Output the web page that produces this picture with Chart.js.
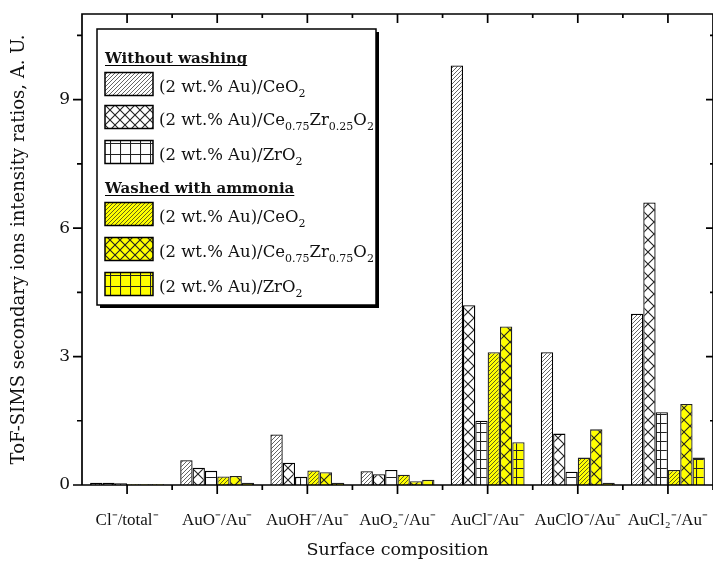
<!DOCTYPE html>
<html>
<head>
<meta charset="utf-8">
<script src="https://cdn.jsdelivr.net/npm/chart.js@4.4.0/dist/chart.umd.min.js"></script>
<style>
  html, body { margin: 0; padding: 0; background: #fff; }
  #wrap { width: 713px; height: 565px; }
</style>
</head>
<body>
<div id="wrap"><canvas id="myChart" width="713" height="565"></canvas></div>
<script>
// categories on the x axis
const categories = ["Cl\u207B/total\u207B", "AuO\u207B/Au\u207B", "AuOH\u207B/Au\u207B", "AuO\u2082\u207B/Au\u207B",
  "AuCl\u207B/Au\u207B", "AuClO\u207B/Au\u207B", "AuCl\u2082\u207B/Au\u207B"];

// without washing
const ceo2 = [0.05, 0.58, 1.18, 0.32, 9.8, 3.1, 4.0];
const cezr = [0.05, 0.40, 0.52, 0.25, 4.2, 1.2, 6.6];
const zro2 = [0.04, 0.33, 0.19, 0.35, 1.5, 0.31, 1.7];
// washed with ammonia
const ceo2Washed = [0.02, 0.20, 0.34, 0.24, 3.1, 0.64, 0.35];
const cezrWashed = [0.02, 0.21, 0.30, 0.09, 3.7, 1.3, 1.89];
const zro2Washed = [0.02, 0.05, 0.05, 0.12, 1.0, 0.05, 0.64];

const groupTitles = ["Without washing", "Washed with ammonia"];
const seriesLabels = [
  "(2 wt.% Au)/CeO_{2}",
  "(2 wt.% Au)/Ce_{0.75}Zr_{0.25}O_{2}",
  "(2 wt.% Au)/ZrO_{2}",
  "(2 wt.% Au)/CeO_{2}",
  "(2 wt.% Au)/Ce_{0.75}Zr_{0.75}O_{2}",
  "(2 wt.% Au)/ZrO_{2}",
];
const yTicks = [0, 3, 6, 9];

const seriesValues = [ceo2, cezr, zro2, ceo2Washed, cezrWashed, zro2Washed];
const kinds = ["diag", "cross", "grid", "diag", "cross", "grid"];

const ctx = document.getElementById("myChart").getContext("2d");

function makePattern(kind, bg, w, h) {
  const c = document.createElement("canvas");
  c.width = w;
  c.height = h;
  const g = c.getContext("2d");
  g.fillStyle = bg;
  g.fillRect(0, 0, w, h);
  g.strokeStyle = "#222";
  g.lineWidth = kind === "diag" ? 0.7 : 1.1;
  g.beginPath();
  if (kind === "diag") {
    g.moveTo(-1, h + 1); g.lineTo(w + 1, -1);
    g.moveTo(-1, 1); g.lineTo(1, -1);
    g.moveTo(w - 1, h + 1); g.lineTo(w + 1, h - 1);
  } else if (kind === "cross") {
    g.moveTo(0, 0); g.lineTo(w, h);
    g.moveTo(0, h); g.lineTo(w, 0);
  } else {
    g.moveTo(0, 0.5); g.lineTo(w, 0.5);
    g.moveTo(0.5, 0); g.lineTo(0.5, h);
  }
  g.stroke();
  return ctx.createPattern(c, "repeat");
}

function tileFor(kind, legend) {
  if (kind === "diag") return [4, 4];
  if (kind === "cross") return legend ? [10, 10] : [12, 12];
  return legend ? [10, 11] : [12, 9];
}

const fills = kinds.map((k, i) => {
  const [w, h] = tileFor(k, false);
  return makePattern(k, i < 3 ? "#ffffff" : "#ffff00", w, h);
});
const legendFills = kinds.map((k, i) => {
  const [w, h] = tileFor(k, true);
  return makePattern(k, i < 3 ? "#ffffff" : "#ffff00", w, h);
});

const serif = "'DejaVu Serif', serif";

function drawRich(c, text, x, y, size) {
  const parts = text.split(/(_\{[^}]*\})/);
  for (const p of parts) {
    if (!p) continue;
    if (p.startsWith("_{")) {
      const t = p.slice(2, -1);
      c.font = Math.round(size * 0.65) + "px " + serif;
      c.fillText(t, x, y + 5);
      x += c.measureText(t).width;
    } else {
      c.font = size + "px " + serif;
      c.fillText(p, x, y);
      x += c.measureText(p).width;
    }
  }
  return x;
}

function noPadding(scale) {
  scale.paddingLeft = 0;
  scale.paddingRight = 0;
  scale.paddingTop = 0;
  scale.paddingBottom = 0;
}

// frame with ticks on all four sides
const frame = {
  id: "frame",
  afterDatasetsDraw(chart) {
    const c = chart.ctx;
    const a = chart.chartArea;
    const x = chart.scales.x;
    const y = chart.scales.y;
    c.save();
    c.strokeStyle = "#000";
    c.lineWidth = 1.7;
    c.beginPath();
    c.moveTo(a.left, a.bottom);
    c.lineTo(a.left, a.top);
    c.lineTo(a.right, a.top);
    c.lineTo(a.right, a.bottom);
    c.lineTo(a.left, a.bottom);
    const half = (x.getPixelForValue(1) - x.getPixelForValue(0)) / 2;
    for (let i = 0; i < categories.length; i++) {
      const px = x.getPixelForValue(i);
      c.moveTo(px, a.bottom); c.lineTo(px, a.bottom + 9);
      c.moveTo(px, a.top); c.lineTo(px, a.top + 9);
      const bx = px + half;
      c.moveTo(bx, a.bottom); c.lineTo(bx, a.bottom + 5);
      c.moveTo(bx, a.top); c.lineTo(bx, a.top + 4);
    }
    for (let v = 0; v <= y.max; v += 1.5) {
      const py = y.getPixelForValue(v);
      const major = v % 3 === 0;
      c.moveTo(a.left, py); c.lineTo(a.left - (major ? 9 : 5), py);
      c.moveTo(a.right, py); c.lineTo(a.right - (major ? 7 : 3), py);
    }
    c.stroke();
    c.restore();
  },
};

// legend box with hatched swatches
const legendBox = {
  id: "legendBox",
  afterDraw(chart) {
    const c = chart.ctx;
    const a = chart.chartArea;
    const bx = a.left + 15, by = a.top + 15, bw = 279, bh = 276;
    c.save();
    c.fillStyle = "#000";
    c.fillRect(bx + 3, by + 3, bw, bh);
    c.fillStyle = "#fff";
    c.fillRect(bx, by, bw, bh);
    c.strokeStyle = "#000";
    c.lineWidth = 1.5;
    c.strokeRect(bx, by, bw, bh);

    const headerY = [28, 158];
    const itemY = [55, 88, 123, 185, 220, 255];
    c.textBaseline = "alphabetic";
    c.fillStyle = "#111";
    groupTitles.forEach((t, i) => {
      c.font = "bold 15px " + serif;
      const tx = bx + 8, ty = by + headerY[i] + 6;
      c.fillText(t, tx, ty);
      const w = c.measureText(t).width;
      c.lineWidth = 1.2;
      c.beginPath();
      c.moveTo(tx, ty + 2.5); c.lineTo(tx + w, ty + 2.5);
      c.stroke();
    });
    seriesLabels.forEach((t, i) => {
      const cy = by + itemY[i];
      c.fillStyle = legendFills[i];
      c.fillRect(bx + 8, cy - 11.5, 48, 23);
      c.lineWidth = 1.5;
      c.strokeStyle = "#000";
      c.strokeRect(bx + 8, cy - 11.5, 48, 23);
      c.fillStyle = "#111";
      drawRich(c, t, bx + 62, cy + 8, 16.5);
    });
    c.restore();
  },
};

const data = {
  labels: categories,
  datasets: seriesValues.map((vals, i) => ({
    label: seriesLabels[i],
    data: vals,
    backgroundColor: fills[i],
    borderColor: i < 3 ? "#000" : "#222",
    borderWidth: 1.3,
    categoryPercentage: 0.82,
    barPercentage: 1.0,
  })),
};

const config = {
  type: "bar",
  data: data,
  options: {
    responsive: false,
    devicePixelRatio: 1,
    animation: false,
    layout: { padding: { top: 14, right: 0, left: 0, bottom: 0 } },
    plugins: {
      legend: { display: false },
      tooltip: { enabled: false },
    },
    scales: {
      x: {
        grid: { display: false, drawTicks: false },
        border: { display: false },
        ticks: {
          color: "#111",
          padding: 25,
          maxRotation: 0,
          autoSkip: false,
          font: { family: "'Liberation Serif', serif", size: 17 },
        },
        title: {
          display: true,
          text: "Surface composition",
          color: "#111",
          padding: { top: 0, bottom: 4 },
          font: { family: serif, size: 17.5 },
        },
        afterFit(scale) { scale.height = 80; noPadding(scale); },
      },
      y: {
        min: 0,
        max: 11,
        grid: { display: false, drawTicks: false },
        border: { display: false },
        afterBuildTicks(scale) { scale.ticks = yTicks.map((v) => ({ value: v })); },
        ticks: {
          color: "#111",
          padding: 12,
          font: { family: serif, size: 17 },
        },
        title: {
          display: true,
          text: "ToF-SIMS secondary ions intensity ratios, A. U.",
          color: "#111",
          padding: { top: 9, bottom: 0 },
          font: { family: serif, size: 18 },
        },
        afterFit(scale) { scale.width = 82; noPadding(scale); },
      },
    },
  },
  plugins: [frame, legendBox],
};

const myChart = new Chart(ctx, config);
</script>
</body>
</html>
